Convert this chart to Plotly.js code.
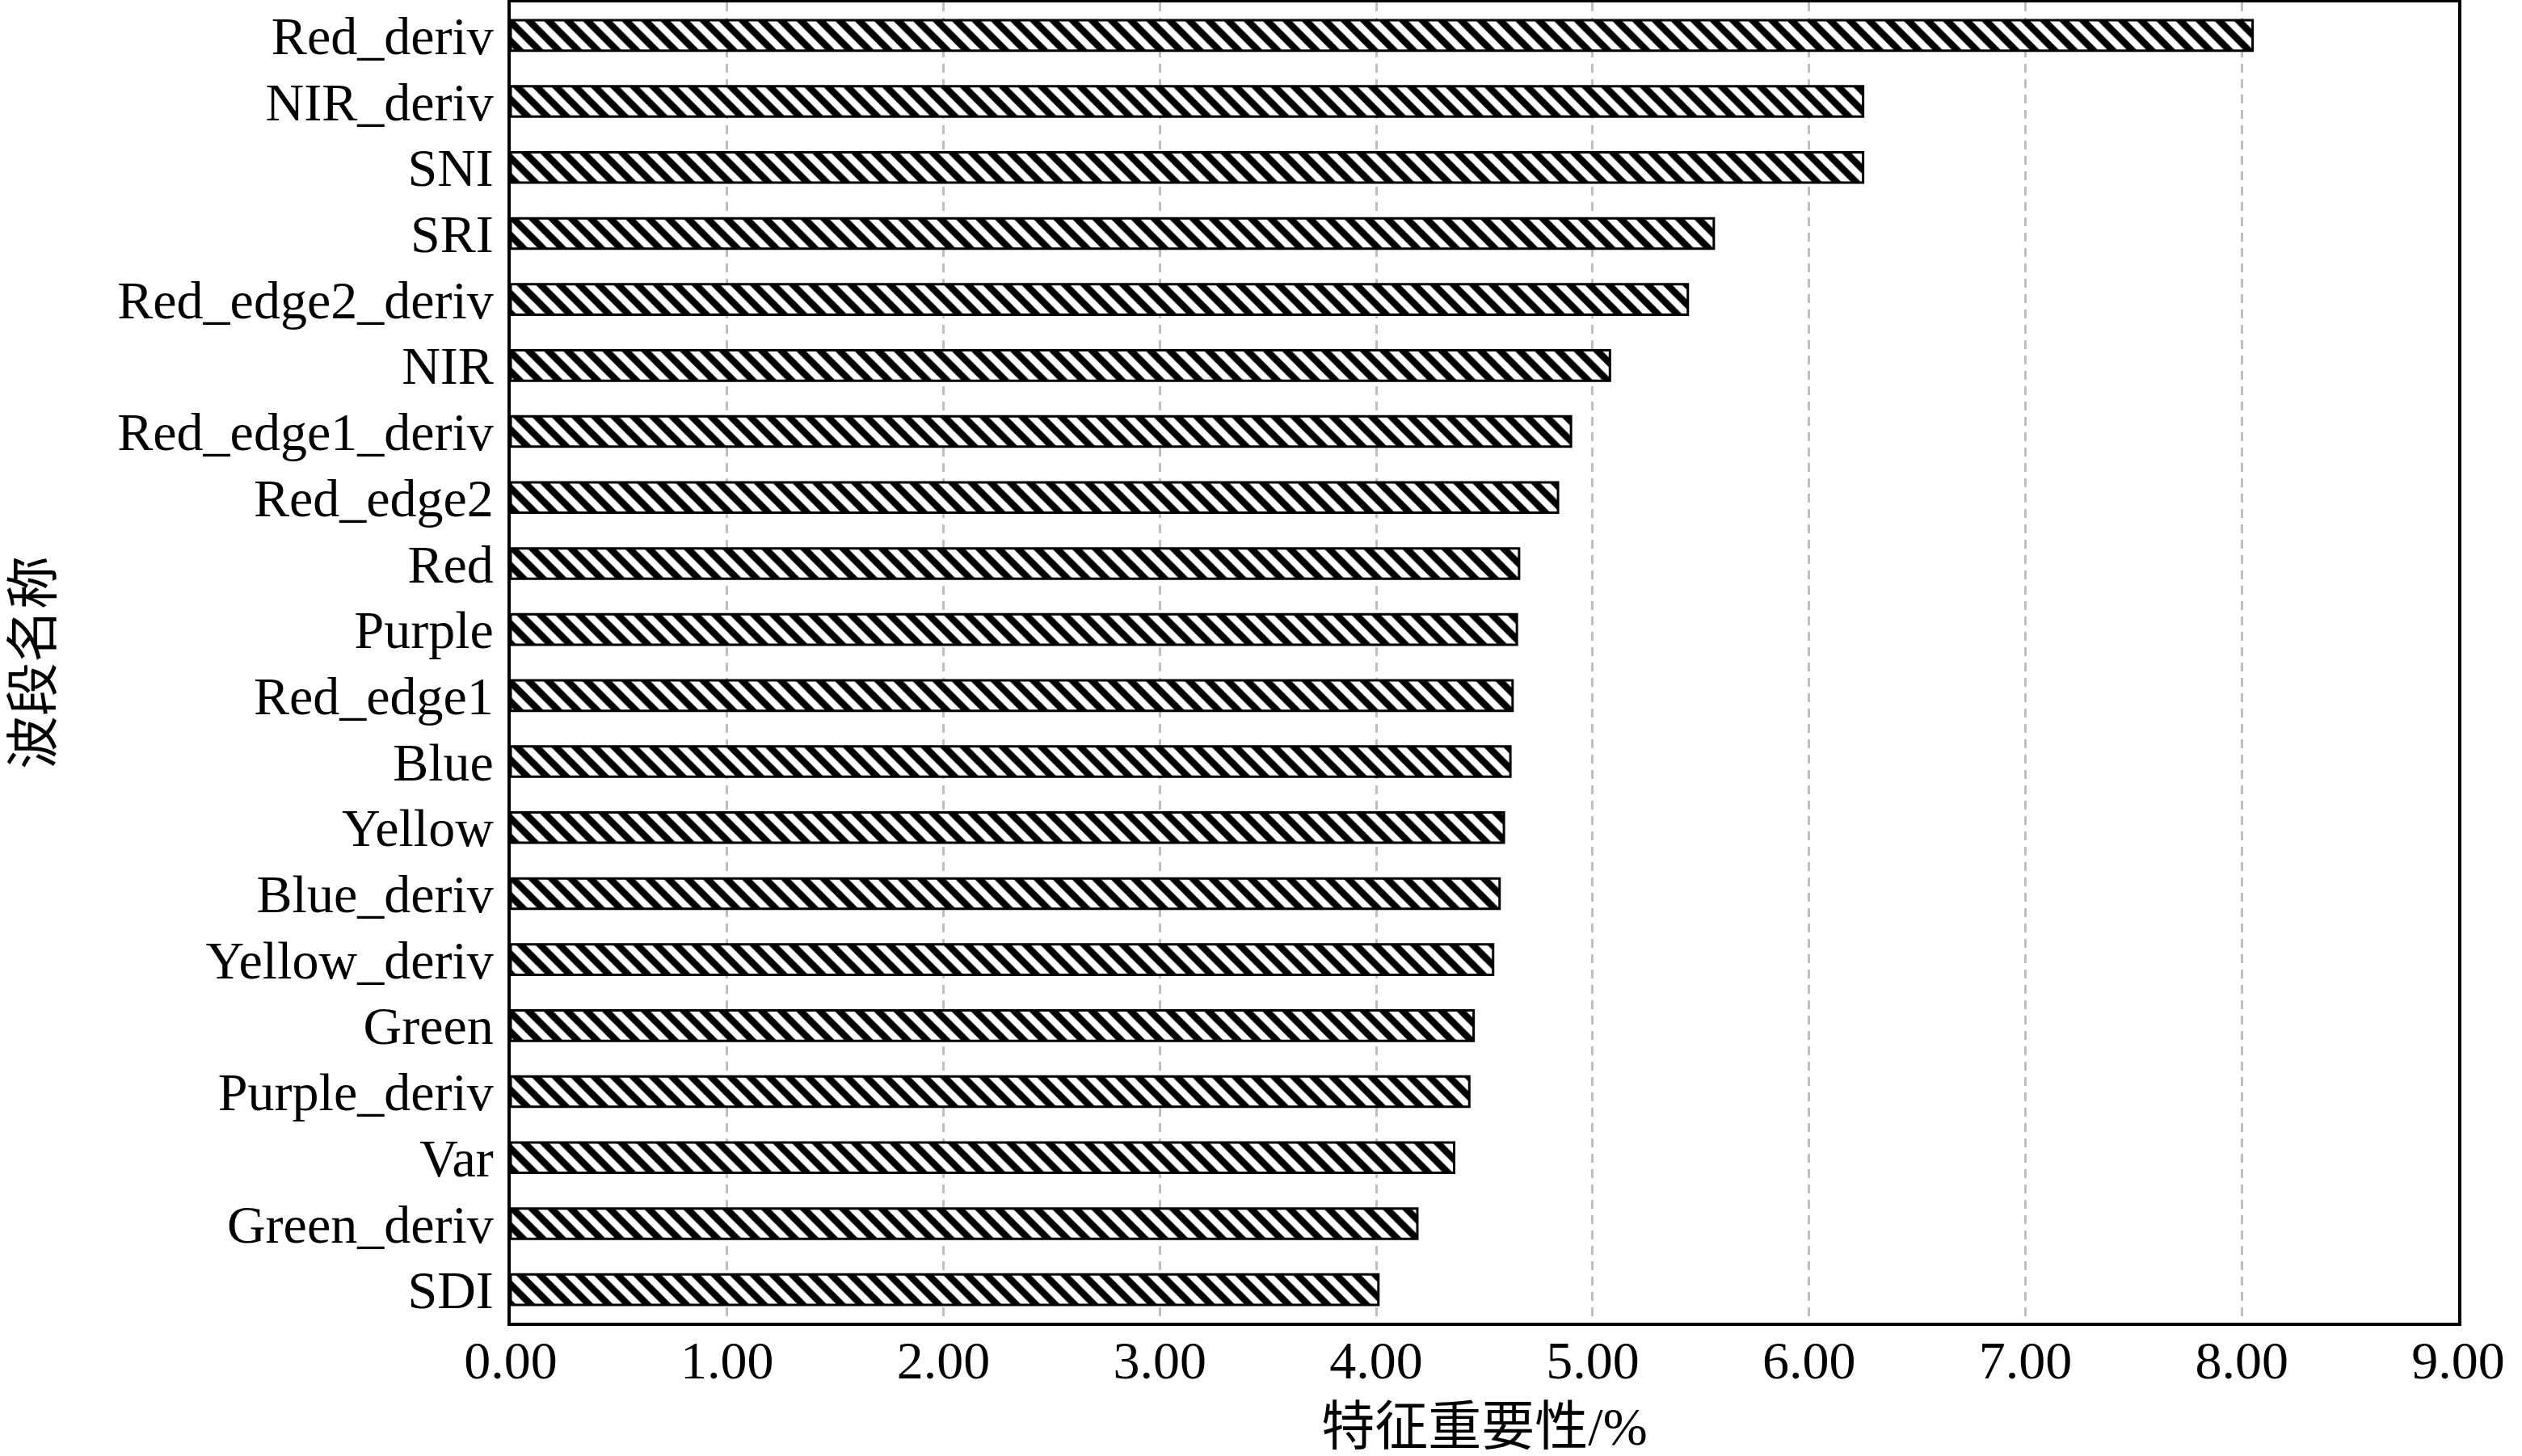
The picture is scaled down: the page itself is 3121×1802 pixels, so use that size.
<!DOCTYPE html>
<html>
<head>
<meta charset="utf-8">
<script src="https://cdn.plot.ly/plotly-3.0.1.min.js"></script>
<style>
  html, body { margin: 0; padding: 0; background: #fff; }
  #chart { width: 3121px; height: 1802px; }
</style>
</head>
<body>
<div id="chart"></div>
<script>
// band names, top to bottom as in the figure
const bands = [
    "Red_deriv", "NIR_deriv", "SNI", "SRI", "Red_edge2_deriv", "NIR",
    "Red_edge1_deriv", "Red_edge2", "Red", "Purple", "Red_edge1", "Blue",
    "Yellow", "Blue_deriv", "Yellow_deriv", "Green", "Purple_deriv", "Var",
    "Green_deriv", "SDI"
];
// feature importance in %
const importance = [
    8.05, 6.25, 6.25, 5.56, 5.44, 5.08,
    4.90, 4.84, 4.66, 4.65, 4.63, 4.62,
    4.59, 4.57, 4.54, 4.45, 4.43, 4.36,
    4.19, 4.01
];
const xTicks = [0, 1, 2, 3, 4, 5, 6, 7, 8, 9];
const xTickText = ["0.00", "1.00", "2.00", "3.00", "4.00", "5.00", "6.00", "7.00", "8.00", "9.00"];

const fontFam = '"Liberation Serif", "Times New Roman", "Noto Sans CJK SC", serif';

const trace = {
    type: 'bar',
    orientation: 'h',
    y: bands,
    x: importance,
    marker: {
        color: '#ffffff',
        line: { color: '#000000', width: 3 },
        pattern: { shape: '\\', fgcolor: '#000000', bgcolor: '#ffffff', size: 17, solidity: 0.5 }
    },
    hoverinfo: 'none'
};

const layout = {
    width: 3121,
    height: 1802,
    margin: { l: 632, r: 79, t: 3, b: 165 },
    paper_bgcolor: '#ffffff',
    plot_bgcolor: '#ffffff',
    showlegend: false,
    bargap: 0.54,
    font: { family: fontFam, size: 66, color: '#000000' },
    xaxis: {
        range: [0, 9],
        tickvals: xTicks,
        ticktext: xTickText,
        ticks: '',
        ticklabelstandoff: -14,
        showgrid: true,
        gridcolor: '#bfbfbf',
        gridwidth: 3,
        griddash: '11px,8px',
        zeroline: false,
        showline: true,
        linecolor: '#000000',
        linewidth: 4,
        mirror: true,
        tickfont: { family: fontFam, size: 66 },
        title: { text: '特征重要性/%', font: { family: fontFam, size: 66 }, standoff: 30 }
    },
    yaxis: {
        type: 'category',
        categoryorder: 'array',
        categoryarray: bands,
        autorange: 'reversed',
        ticks: '',
        ticklabelstandoff: 4,
        showgrid: false,
        zeroline: false,
        showline: true,
        linecolor: '#000000',
        linewidth: 4,
        mirror: true,
        tickfont: { family: fontFam, size: 66 },
        title: { text: '波段名称', font: { family: fontFam, size: 66 }, standoff: 60 }
    }
};

Plotly.newPlot('chart', [trace], layout, { staticPlot: true, displayModeBar: false });
</script>
</body>
</html>
